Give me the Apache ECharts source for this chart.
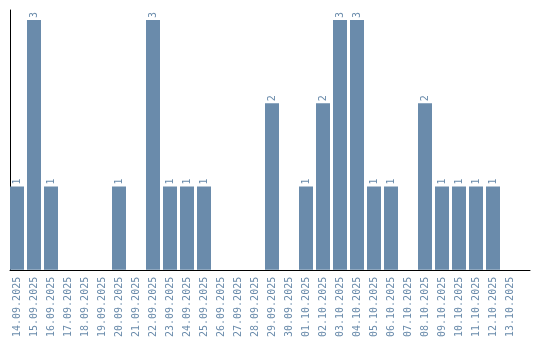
<!DOCTYPE html>
<html>
<head>
<meta charset="utf-8">
<script src="https://cdn.jsdelivr.net/npm/echarts@6/dist/echarts.min.js"></script>
<style>html,body{margin:0;padding:0;background:#fff}#c{width:540px;height:340px}</style>
</head>
<body>
<div id="c"></div>
<script>
const categories = ["14.09.2025","15.09.2025","16.09.2025","17.09.2025","18.09.2025","19.09.2025","20.09.2025","21.09.2025","22.09.2025","23.09.2025","24.09.2025","25.09.2025","26.09.2025","27.09.2025","28.09.2025","29.09.2025","30.09.2025","01.10.2025","02.10.2025","03.10.2025","04.10.2025","05.10.2025","06.10.2025","07.10.2025","08.10.2025","09.10.2025","10.10.2025","11.10.2025","12.10.2025","13.10.2025"];
const values = [1,3,1,0,0,0,1,0,3,1,1,1,0,0,0,2,0,1,2,3,3,1,1,0,2,1,1,1,1,0];

const color = '#6a8bab';
const font = 'DejaVu Sans Mono';
const chart = echarts.init(document.getElementById('c'), null, {renderer:'canvas'});
chart.setOption({
  animation: false,
  grid: [
    {left: 8.5, top: 20, width: 510, height: 250},
    {left: 10, top: 10, width: 520, height: 260}
  ],
  xAxis: [
    {type: 'category', gridIndex: 0, data: categories,
     axisLine: {show: false}, axisTick: {show: false},
     axisLabel: {rotate: 90, interval: 0, margin: 7, color: color, fontFamily: font, fontSize: 10}},
    {type: 'value', gridIndex: 1, min: 0, max: 1,
     axisLine: {show: true, lineStyle: {color: '#000', width: 1}}, axisTick: {show: false},
     axisLabel: {show: false}, splitLine: {show: false}}
  ],
  yAxis: [
    {type: 'value', gridIndex: 0, min: 0, max: 3, show: false, splitLine: {show: false}},
    {type: 'value', gridIndex: 1, min: 0, max: 1,
     axisLine: {show: true, lineStyle: {color: '#000', width: 1}}, axisTick: {show: false},
     axisLabel: {show: false}, splitLine: {show: false}}
  ],
  series: [{
    type: 'bar', xAxisIndex: 0, yAxisIndex: 0,
    data: values.map(v => v === 0 ? {value: 0, label: {show: false}} : v),
    barWidth: 14,
    itemStyle: {color: color},
    label: {show: true, position: 'top', rotate: 90, align: 'left', verticalAlign: 'middle', distance: 2,
            color: color, fontFamily: font, fontSize: 10}
  }]
});
</script>
</body>
</html>
